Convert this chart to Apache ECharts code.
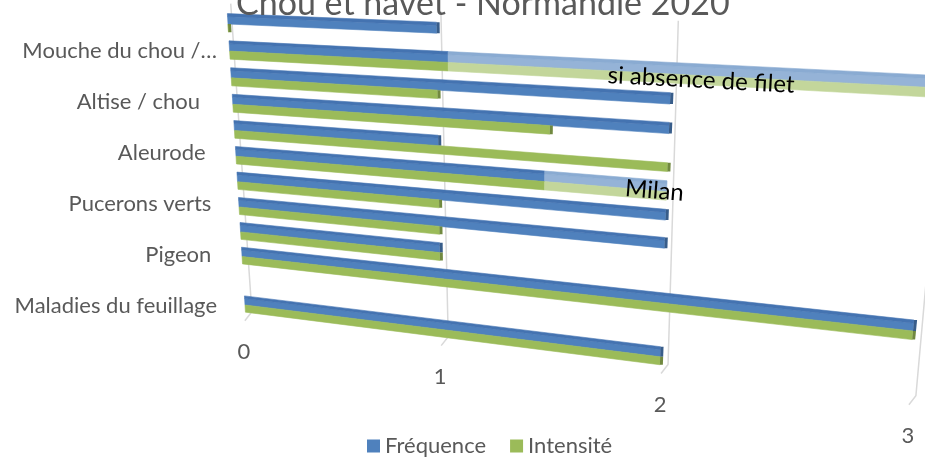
<!DOCTYPE html>
<html>
<head>
<meta charset="utf-8">
<script src="https://cdn.jsdelivr.net/npm/echarts@6/dist/echarts.min.js"></script>
<style>
html, body { margin: 0; padding: 0; background: #fff; }
#container { width: 925px; height: 457px; }
</style>
</head>
<body>
<div id="container"></div>
<script>
// catégories du bas vers le haut (une étiquette sur deux est affichée)
var categories = ['Maladies du feuillage', '', 'Pigeon ', '', 'Pucerons verts ', '', 'Aleurode  ', '', 'Altise / chou   ', '', 'Mouche du chou /…', ''];
var frequence = [2, null, 3, 1, 2, 2, 1.48, 1, 2, 2, 1.05, 1];
var intensite = [2, null, 3, 1, 1, 1, 1.48, 2, 1.5, 1, 1.05, 0];
// prolongements en clair
var notes = [
    { cat: 6, to: 2, text: 'Milan' },
    { cat: 10, to: 3, text: 'si absence de filet' }
];
var valueTicks = [0, 1, 2, 3];

// placement des textes des prolongements [valeur, décalage catégorie]
var noteLabelAt = [[1.95, 0.0], [2.12, -0.15]];

// perspective : points (valeur, catégorie) -> pixels écran
var anchors = [
    { at: [0, 0], to: [245, 305] },
    { at: [3, 2], to: [913, 331] },
    { at: [0, 11], to: [228, 24] },
    { at: [2, 9], to: [670, 104] }
];

var FONT = 'Lato';
var GREY = '#595959';

function solve(A, b) {
    var n = b.length;
    for (var i = 0; i < n; i++) A[i].push(b[i]);
    for (var c = 0; c < n; c++) {
        var p = c;
        for (var r = c + 1; r < n; r++) {
            if (Math.abs(A[r][c]) > Math.abs(A[p][c])) p = r;
        }
        var t = A[c]; A[c] = A[p]; A[p] = t;
        for (var r2 = 0; r2 < n; r2++) {
            if (r2 === c) continue;
            var f = A[r2][c] / A[c][c];
            for (var k = c; k <= n; k++) A[r2][k] -= f * A[c][k];
        }
    }
    return A.map(function (row, i) { return row[n] / row[i]; });
}

function makeProjection(api) {
    var rows = [], rhs = [];
    anchors.forEach(function (a) {
        var p = api.coord(a.at);
        var x = p[0], y = p[1], X = a.to[0], Y = a.to[1];
        rows.push([x, y, 1, 0, 0, 0, -x * X, -y * X]); rhs.push(X);
        rows.push([0, 0, 0, x, y, 1, -x * Y, -y * Y]); rhs.push(Y);
    });
    var h = solve(rows, rhs);
    return function (u, w) {
        var p = api.coord([u, w]);
        var d = h[6] * p[0] + h[7] * p[1] + 1;
        return [(h[0] * p[0] + h[1] * p[1] + h[2]) / d, (h[3] * p[0] + h[4] * p[1] + h[5]) / d];
    };
}

function quad(P, u0, u1, w0, w1, fill) {
    return {
        type: 'polygon',
        shape: { points: [P(u0, w0), P(u1, w0), P(u1, w1), P(u0, w1)] },
        style: { fill: fill, stroke: fill, lineWidth: 0.6 }
    };
}

function noteFor(cat) {
    for (var i = 0; i < notes.length; i++) {
        if (notes[i].cat === cat) return notes[i];
    }
    return null;
}

function barRenderer(band, topFace, colors) {
    return function (params, api) {
        var P = makeProjection(api);
        var v = api.value(0), c = api.value(1);
        var lo = c + band[0], hi = c + band[1];
        var mid = topFace ? hi - topFace : hi;
        var children = [quad(P, 0, v, lo, mid, colors.front)];
        if (topFace) children.push(quad(P, 0, v, mid, hi, colors.top));
        var note = noteFor(c);
        if (note) {
            children.push(quad(P, v, note.to, lo, mid, colors.light));
            if (topFace) children.push(quad(P, v, note.to, mid, hi, colors.lightTop));
        } else {
            var a = P(v, lo), b = P(v, hi);
            children.push({
                type: 'polygon',
                shape: { points: [a, b, [b[0] + 3, b[1]], [a[0] + 3, a[1]]] },
                style: { fill: colors.cap }
            });
        }
        return { type: 'group', children: children };
    };
}

function toData(values) {
    var out = [];
    for (var i = values.length - 1; i >= 0; i--) {
        if (values[i] != null) out.push([values[i], i]);
    }
    return out;
}

var myChart = echarts.init(document.getElementById('container'));

var option = {
    animation: false,
    backgroundColor: '#fff',
    title: {
        text: 'Chou et navet - Normandie 2020',
        left: 231,
        top: -18,
        textStyle: { fontFamily: FONT, fontSize: 34, fontWeight: 'normal', color: GREY }
    },
    legend: {
        data: ['Fréquence', 'Intensité'],
        left: 362,
        top: 430,
        icon: 'rect',
        itemWidth: 13,
        itemHeight: 13,
        itemGap: 24,
        textStyle: { fontFamily: FONT, fontSize: 22, color: GREY }
    },
    grid: { left: 236, top: 12.1, bottom: 138.2, right: 300 },
    xAxis: { type: 'value', min: 0, max: 3, show: false },
    yAxis: [{
        type: 'category',
        data: categories,
        axisLine: { show: false },
        axisTick: { show: false },
        splitLine: { show: false },
        axisLabel: {
            interval: 1,
            margin: 19,
            fontFamily: FONT,
            fontSize: 22,
            color: GREY
        }
    }, {
        type: 'value',
        min: -0.5,
        max: 11.5,
        show: false
    }],
    series: [{
        // quadrillage en perspective et graduations
        type: 'custom',
        silent: true,
        z: 1,
        xAxisIndex: 0,
        yAxisIndex: 1,
        data: valueTicks.map(function (t) { return [t, 0]; }),
        renderItem: function (params, api) {
            var P = makeProjection(api);
            var u = api.value(0);
            var top = P(u + 0.02, 11.75), bot = P(u + 0.035, -0.25);
            var foot = [bot[0] - 7, bot[1] + 9];
            return {
                type: 'group',
                children: [{
                    type: 'polyline',
                    shape: { points: [top, bot, foot] },
                    style: { stroke: '#D9D9D9', lineWidth: 1.5, fill: null }
                }, {
                    type: 'text',
                    x: foot[0] - 1,
                    y: foot[1] + 31,
                    style: {
                        text: String(u),
                        align: 'center',
                        verticalAlign: 'middle',
                        fontFamily: FONT,
                        fontSize: 22,
                        fill: GREY
                    }
                }]
            };
        }
    }, {
        name: 'Fréquence',
        type: 'custom',
        z: 2,
        xAxisIndex: 0,
        yAxisIndex: 1,
        itemStyle: { color: '#4F81BD' },
        data: toData(frequence),
        renderItem: barRenderer([0, 0.38], 0.11, {
            front: '#4F81BD', top: '#4473B1', cap: '#385D8A',
            light: '#95B3D7', lightTop: '#8AABD2'
        })
    }, {
        name: 'Intensité',
        type: 'custom',
        z: 2,
        xAxisIndex: 0,
        yAxisIndex: 1,
        itemStyle: { color: '#9BBB59' },
        data: toData(intensite),
        renderItem: barRenderer([-0.3, 0], 0, {
            front: '#9BBB59', cap: '#71893F',
            light: '#C3D69B'
        })
    }, {
        // textes des prolongements
        type: 'custom',
        silent: true,
        z: 3,
        xAxisIndex: 0,
        yAxisIndex: 1,
        data: notes.map(function (n, i) { return [noteLabelAt[i][0], n.cat + noteLabelAt[i][1], i]; }),
        renderItem: function (params, api) {
            var P = makeProjection(api);
            var u = api.value(0), w = api.value(1);
            var p = P(u, w), q = P(u + 0.3, w);
            var angle = Math.atan2(q[1] - p[1], q[0] - p[0]);
            return {
                type: 'text',
                x: p[0],
                y: p[1],
                rotation: -angle,
                style: {
                    text: notes[api.value(2)].text,
                    align: 'center',
                    verticalAlign: 'middle',
                    fontFamily: FONT,
                    fontSize: 24,
                    fill: '#000'
                }
            };
        }
    }]
};

myChart.setOption(option);
</script>
</body>
</html>
